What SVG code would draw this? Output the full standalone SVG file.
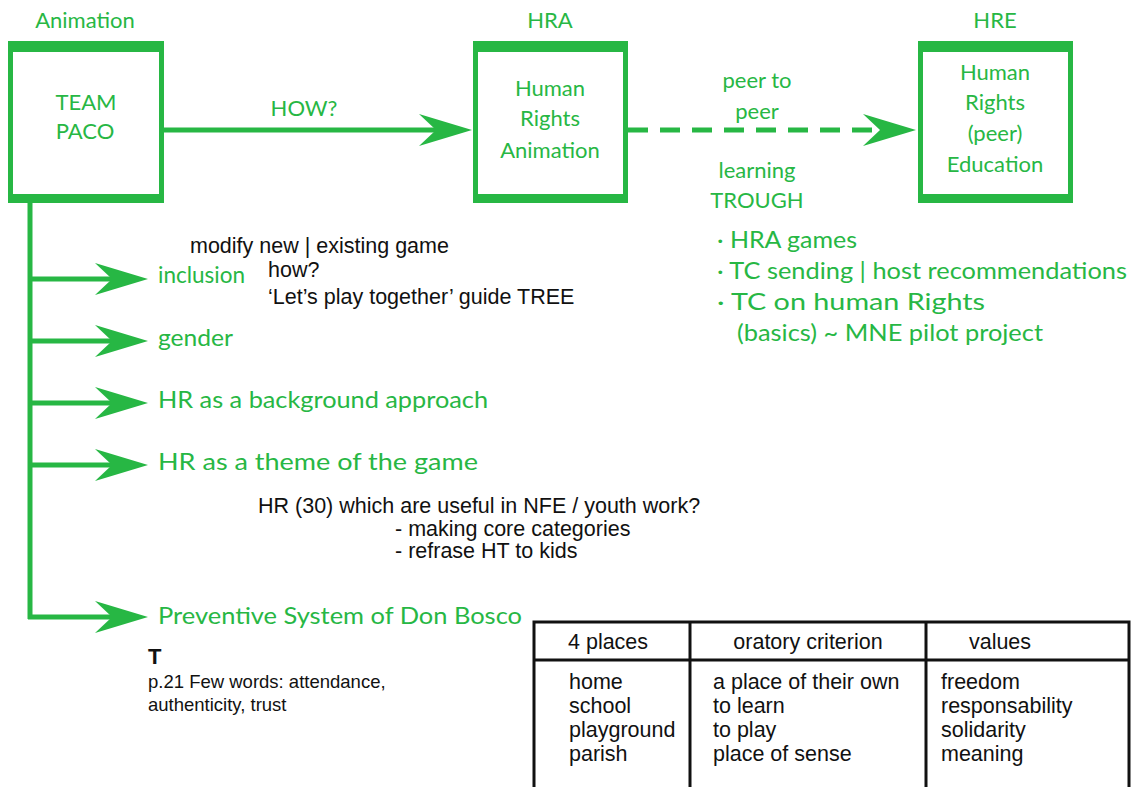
<svg xmlns="http://www.w3.org/2000/svg" width="1138" height="787" viewBox="0 0 1138 787">
<style>
.g{fill:#27b744;font-family:Lato,"Open Sans",sans-serif;font-size:23px}
.gc{fill:#27b744;font-family:Lato,"Open Sans",sans-serif;font-size:22px;text-anchor:middle}
.k{fill:#111;font-family:"Liberation Sans",Arial,sans-serif;font-size:21.5px}
.ks{fill:#111;font-family:"Liberation Sans",Arial,sans-serif;font-size:18.5px}
.box{fill:#fff;stroke:#27b744;stroke-width:5}
.band{fill:#27b744}
.ln{stroke:#27b744;stroke-width:5;fill:none}
.tb{stroke:#111;stroke-width:3;fill:none}
</style>
<defs>
<path id="ah" d="M0,0 L-53,-16 L-36,0 L-53,16 Z" fill="#27b744"/>
</defs>
<rect width="1138" height="787" fill="#fff"/>

<g id="connectors">
<line class="ln" x1="164" y1="130" x2="440" y2="130"/>
<use href="#ah" x="472" y="130"/>
<line class="ln" x1="628" y1="130" x2="885" y2="130" stroke-dasharray="20 12"/>
<use href="#ah" x="916" y="130"/>
<line class="ln" x1="30" y1="203" x2="30" y2="619"/>
<line class="ln" x1="28" y1="279" x2="120" y2="279"/>
<use href="#ah" x="148" y="279"/>
<line class="ln" x1="28" y1="341" x2="120" y2="341"/>
<use href="#ah" x="148" y="341"/>
<line class="ln" x1="28" y1="403" x2="120" y2="403"/>
<use href="#ah" x="148" y="403"/>
<line class="ln" x1="28" y1="465" x2="120" y2="465"/>
<use href="#ah" x="148" y="465"/>
<line class="ln" x1="28" y1="617" x2="120" y2="617"/>
<use href="#ah" x="148" y="617"/>
</g>

<g id="node-animation">
<text class="gc" x="85" y="28">Animation</text>
<rect class="box" x="10.5" y="44" width="151" height="156"/>
<rect class="band" x="8" y="41" width="156" height="11"/>
<rect class="band" x="8" y="194" width="156" height="9"/>
<text class="gc" x="86" y="110">TEAM</text>
<text class="gc" x="85" y="139">PACO</text>
</g>

<g id="node-hra">
<text class="gc" x="550" y="28">HRA</text>
<rect class="box" x="475.5" y="44" width="150" height="156"/>
<rect class="band" x="473" y="41" width="155" height="11"/>
<rect class="band" x="473" y="194" width="155" height="9"/>
<text class="gc" x="550" y="96">Human</text>
<text class="gc" x="550" y="126">Rights</text>
<text class="gc" x="550" y="158">Animation</text>
</g>

<g id="node-hre">
<text class="gc" x="995" y="28">HRE</text>
<rect class="box" x="920.5" y="44" width="150" height="156"/>
<rect class="band" x="918" y="41" width="155" height="11"/>
<rect class="band" x="918" y="194" width="155" height="9"/>
<text class="gc" x="995" y="80">Human</text>
<text class="gc" x="995" y="110">Rights</text>
<text class="gc" x="995" y="141">(peer)</text>
<text class="gc" x="995" y="172">Education</text>
</g>

<g id="label-how">
<text class="gc" x="304" y="116">HOW?</text>
</g>

<g id="label-peer">
<text class="gc" x="757" y="88">peer to</text>
<text class="gc" x="757" y="119">peer</text>
<text class="gc" x="757" y="178">learning</text>
<text class="gc" x="757" y="208">TROUGH</text>
</g>

<g id="hre-list">
<text class="g" x="717" y="248" textLength="140" lengthAdjust="spacingAndGlyphs">· HRA games</text>
<text class="g" x="717" y="279" textLength="410" lengthAdjust="spacingAndGlyphs">· TC sending | host recommendations</text>
<text class="g" x="717" y="310" textLength="268" lengthAdjust="spacingAndGlyphs">· TC on human Rights</text>
<text class="g" x="737" y="341" textLength="306" lengthAdjust="spacingAndGlyphs">(basics) ~ MNE pilot project</text>
</g>

<g id="branch-inclusion">
<text class="g" x="158" y="283" textLength="87" lengthAdjust="spacingAndGlyphs">inclusion</text>
<text class="k" x="190" y="253">modify new | existing game</text>
<text class="k" x="268" y="277">how?</text>
<text class="k" x="268" y="304">‘Let’s play together’ guide TREE</text>
</g>

<g id="branch-gender">
<text class="g" x="158" y="346" textLength="75" lengthAdjust="spacingAndGlyphs">gender</text>
</g>

<g id="branch-background">
<text class="g" x="158" y="408" textLength="330" lengthAdjust="spacingAndGlyphs">HR as a background approach</text>
</g>

<g id="branch-theme">
<text class="g" x="158" y="470" textLength="320" lengthAdjust="spacingAndGlyphs">HR as a theme of the game</text>
<text class="k" x="258" y="513">HR (30) which are useful in NFE / youth work?</text>
<text class="k" x="395" y="536">- making core categories</text>
<text class="k" x="395" y="558">- refrase HT to kids</text>
</g>

<g id="branch-bosco">
<text class="g" x="158" y="624" textLength="364" lengthAdjust="spacingAndGlyphs">Preventive System of Don Bosco</text>
<text class="ks" x="148" y="664" style="font-weight:bold;font-size:22px">T</text>
<text class="ks" x="148" y="688">p.21 Few words: attendance,</text>
<text class="ks" x="148" y="711">authenticity, trust</text>
</g>

<g id="table">
<rect class="tb" x="534" y="622" width="595" height="170"/>
<line class="tb" x1="534" y1="660" x2="1129" y2="660"/>
<line class="tb" x1="690" y1="622" x2="690" y2="787"/>
<line class="tb" x1="926" y1="622" x2="926" y2="787"/>
<text class="k" x="568" y="649">4 places</text>
<text class="k" x="808" y="649" text-anchor="middle">oratory criterion</text>
<text class="k" x="1000" y="649" text-anchor="middle">values</text>
<text class="k" x="569" y="689">home</text>
<text class="k" x="569" y="713">school</text>
<text class="k" x="569" y="737">playground</text>
<text class="k" x="569" y="761">parish</text>
<text class="k" x="713" y="689">a place of their own</text>
<text class="k" x="713" y="713">to learn</text>
<text class="k" x="713" y="737">to play</text>
<text class="k" x="713" y="761">place of sense</text>
<text class="k" x="941" y="689">freedom</text>
<text class="k" x="941" y="713">responsability</text>
<text class="k" x="941" y="737">solidarity</text>
<text class="k" x="941" y="761">meaning</text>
</g>
</svg>
